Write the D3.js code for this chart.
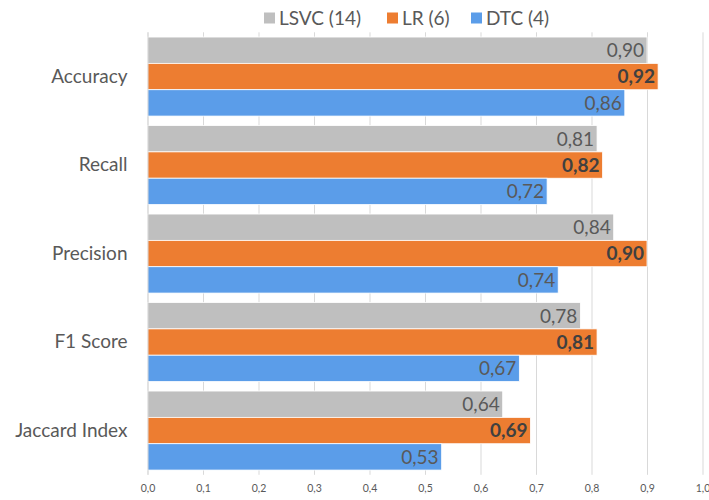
<!DOCTYPE html>
<html>
<head>
<meta charset="utf-8">
<script src="https://cdn.jsdelivr.net/npm/d3@7"></script>
<style>
  html, body { margin: 0; padding: 0; background: #ffffff; }
  svg { display: block; font-family: Lato, "Open Sans", sans-serif; }
</style>
</head>
<body>
<svg id="chart" width="709" height="500"></svg>
<script>
// Metrics shown on the vertical axis (top to bottom)
const categories = ["Accuracy", "Recall", "Precision", "F1 Score", "Jaccard Index"];
// Models, in legend order
const seriesNames = ["LSVC (14)", "LR (6)", "DTC (4)"];
const seriesColors = ["#BFBFBF", "#ED7D31", "#5B9DE9"];
// Scores per model, one value per metric
const lsvcValues = [0.90, 0.81, 0.84, 0.78, 0.64];
const lrValues   = [0.92, 0.82, 0.90, 0.81, 0.69];
const dtcValues  = [0.86, 0.72, 0.74, 0.67, 0.53];
const xTicks = [0, 0.1, 0.2, 0.3, 0.4, 0.5, 0.6, 0.7, 0.8, 0.9, 1.0];

const seriesValues = [lsvcValues, lrValues, dtcValues];
const rows = categories.map((c, i) => ({
  category: c,
  values: seriesNames.map((s, j) => ({ series: s, idx: j, value: seriesValues[j][i] }))
}));

const svg = d3.select("#chart");
const plot = { left: 147.5, right: 702.5, top: 32.3, bottom: 474.8 };

const x = d3.scaleLinear().domain([0, 1]).range([plot.left, plot.right]);
const y0 = d3.scaleBand().domain(categories).range([plot.top, plot.bottom]).paddingInner(0.107).paddingOuter(0.0535);
const y1 = d3.scaleBand().domain(seriesNames).range([0, y0.bandwidth()]);
const color = d3.scaleOrdinal().domain(seriesNames).range(seriesColors);

// Vertical gridlines
svg.append("g")
  .selectAll("line")
  .data(xTicks)
  .join("line")
  .attr("x1", d => x(d) + 0.5).attr("x2", d => x(d) + 0.5)
  .attr("y1", plot.top).attr("y2", plot.bottom)
  .attr("stroke", "#D9D9D9").attr("stroke-width", 1);

// Bars
const groups = svg.append("g")
  .selectAll("g")
  .data(rows)
  .join("g")
  .attr("transform", d => `translate(0,${y0(d.category)})`);

groups.selectAll("rect")
  .data(d => d.values)
  .join("rect")
  .attr("x", x(0))
  .attr("y", d => y1(d.series))
  .attr("width", d => x(d.value) - x(0))
  .attr("height", y1.bandwidth())
  .attr("fill", d => color(d.series))
  .attr("stroke", "#ffffff")
  .attr("stroke-width", 0.8);

// Value labels inside the bar ends
const fmt = v => d3.format(".2f")(v).replace(".", ",");
groups.selectAll("text")
  .data(d => d.values)
  .join("text")
  .attr("x", d => x(d.value) - 3)
  .attr("y", d => y1(d.series) + y1.bandwidth() / 2)
  .attr("dy", "0.36em")
  .attr("text-anchor", "end")
  .attr("font-size", 19)
  .attr("font-weight", d => d.idx === 1 ? "bold" : "normal")
  .attr("fill", d => d.idx === 1 ? "#404040" : "#595959")
  .text(d => fmt(d.value));

// Left axis line
svg.append("line")
  .attr("x1", plot.left + 0.5).attr("x2", plot.left + 0.5)
  .attr("y1", plot.top).attr("y2", plot.bottom)
  .attr("stroke", "#D9D9D9");

// Category labels
const yAxis = d3.axisLeft(y0).tickSize(0).tickPadding(20);
const yg = svg.append("g").attr("transform", `translate(${plot.left},0)`).call(yAxis);
yg.select(".domain").remove();
yg.selectAll("text")
  .attr("font-family", "Lato, 'Open Sans', sans-serif")
  .attr("font-size", 19)
  .style("fill", "#595959");

// Bottom tick labels
const xAxis = d3.axisBottom(x).tickValues(xTicks).tickSize(0).tickPadding(10)
  .tickFormat(d => d3.format(".1f")(d).replace(".", ","));
const xg = svg.append("g").attr("transform", `translate(0,${plot.bottom})`).call(xAxis);
xg.select(".domain").remove();
xg.selectAll("text")
  .attr("font-family", "Lato, 'Open Sans', sans-serif")
  .attr("font-size", 10.5)
  .style("fill", "#595959");

// Legend
const legendX = [264, 387, 471];
const legend = svg.append("g")
  .selectAll("g")
  .data(seriesNames)
  .join("g")
  .attr("transform", (d, i) => `translate(${legendX[i]},18)`);
legend.append("rect")
  .attr("x", 0).attr("y", -5.5)
  .attr("width", 11).attr("height", 11)
  .attr("fill", d => color(d));
legend.append("text")
  .attr("x", 15).attr("y", 0).attr("dy", "0.36em")
  .attr("font-size", 19)
  .attr("fill", "#595959")
  .text(d => d);
</script>
</body>
</html>
